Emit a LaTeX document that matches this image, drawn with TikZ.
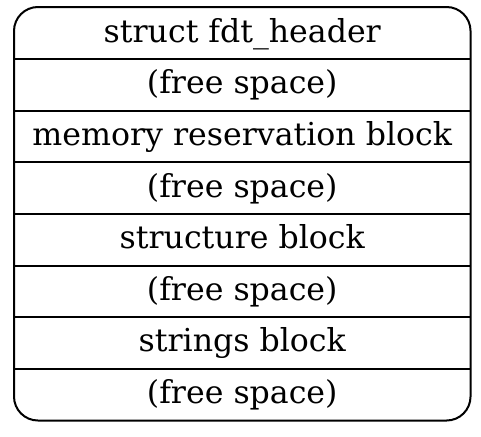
\documentclass[tikz,border=0pt]{standalone}
\usepackage{fontspec}
\setmainfont{DejaVu Serif}
\begin{document}
\begin{tikzpicture}[x=0.75pt,y=-0.75pt,
  frame/.style={draw=black,line width=1.5pt,rounded corners=18pt},
  sep/.style={draw=black,line width=1.5pt},
  rowbox/.style={inner sep=0pt,minimum width=342pt,minimum height=38.7pt,anchor=north west},
  rowtext/.style={anchor=base,inner sep=0pt,font=\fontsize{23.7}{28}\selectfont}]
\useasboundingbox (0,0) rectangle (481,436);
\foreach \i/\t in {1/struct fdt\_header,2/(free space),3/memory reservation block,4/(free space),5/structure block,6/(free space),7/strings block,8/(free space)}{
  \node[rowbox] (r\i) at (14,{7+51.625*(\i-1)}) {};
  \node[rowtext] (t\i) at ([yshift=-26.4pt]r\i.north) {\t};
}
\draw[frame] (r1.north west) rectangle (r8.south east);
\foreach \i in {1,...,7}{
  \draw[sep] (r\i.south west) -- (r\i.south east);
}
\end{tikzpicture}
\end{document}
